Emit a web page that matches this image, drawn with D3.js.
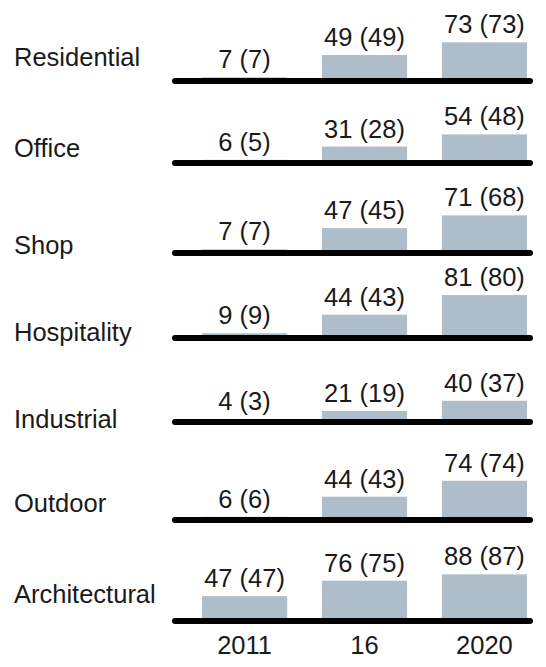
<!DOCTYPE html>
<html>
<head>
<meta charset="utf-8">
<script src="https://cdn.jsdelivr.net/npm/d3@7"></script>
<style>
  html, body { margin: 0; padding: 0; background: #fff; }
  svg text { font-family: "Liberation Sans", Arial, sans-serif; fill: #1a1a1a; }
</style>
</head>
<body>
<svg id="chart" width="546" height="667"></svg>
<script>
// Segments shown as small multiples, one row each
const categories = ["Residential", "Office", "Shop", "Hospitality", "Industrial", "Outdoor", "Architectural"];
const years = ["2011", "16", "2020"];
// Headline value per segment and year
const values = [
  [7, 49, 73],
  [6, 31, 54],
  [7, 47, 71],
  [9, 44, 81],
  [4, 21, 40],
  [6, 44, 74],
  [47, 76, 88]
];
// Value shown in brackets next to each headline value
const bracketValues = [
  [7, 49, 73],
  [5, 28, 48],
  [7, 45, 68],
  [9, 43, 80],
  [3, 19, 37],
  [6, 43, 74],
  [47, 75, 87]
];

// Row layout: baseline of each row and of its name label
const rowBaseline = [81, 163, 253, 338, 422, 520, 621];
const rowLabelY = [66, 157, 254, 341, 428, 512, 603];

const svg = d3.select("#chart");

const x = d3.scaleBand()
  .domain(years)
  .range([184, 545])
  .paddingInner(0.29)
  .paddingOuter(0.15);

const h = d3.scaleLinear().domain([0, 100]).range([0, 53]);

// Horizontal extent of each row's rule
const ruleX1 = x(years[0]) - 27;
const ruleX2 = x(years[years.length - 1]) + x.bandwidth() + 3;

const barColor = "#adbdc9";
const labelSize = 25.5;
const valueSize = 25.5;

const rows = svg.selectAll("g.row")
  .data(categories.map((c, i) => ({ name: c, i })))
  .join("g")
  .attr("class", "row");

// Segment name
rows.append("text")
  .attr("x", 14)
  .attr("y", d => rowLabelY[d.i])
  .attr("font-size", labelSize)
  .text(d => d.name);

const cells = d => years.map((y, j) => ({ year: y, v: values[d.i][j], b: bracketValues[d.i][j], base: rowBaseline[d.i] }));

// Bars
rows.selectAll("rect")
  .data(cells)
  .join("rect")
  .attr("x", d => x(d.year))
  .attr("width", x.bandwidth())
  .attr("y", d => d.base - h(d.v))
  .attr("height", d => h(d.v))
  .attr("fill", barColor);

// Value labels
rows.selectAll("text.val")
  .data(cells)
  .join("text")
  .attr("class", "val")
  .attr("x", d => x(d.year) + x.bandwidth() / 2)
  .attr("y", d => d.base - Math.max(h(d.v), 3) - 9)
  .attr("text-anchor", "middle")
  .attr("font-size", valueSize)
  .text(d => `${d.v} (${d.b})`);

// Baseline rule
rows.append("line")
  .attr("x1", ruleX1)
  .attr("x2", ruleX2)
  .attr("y1", d => rowBaseline[d.i])
  .attr("y2", d => rowBaseline[d.i])
  .attr("stroke", "#000")
  .attr("stroke-width", 6)
  .attr("stroke-linecap", "round");

// Year axis
const axis = svg.append("g")
  .attr("transform", `translate(0,${rowBaseline[rowBaseline.length - 1] + 10})`)
  .call(d3.axisBottom(x).tickSize(0).tickPadding(0));
axis.select(".domain").remove();
axis.selectAll("text")
  .attr("font-size", valueSize)
  .attr("dy", "0.9em")
  .style("font-family", "'Liberation Sans', Arial, sans-serif")
  .attr("fill", "#1a1a1a");
</script>
</body>
</html>
